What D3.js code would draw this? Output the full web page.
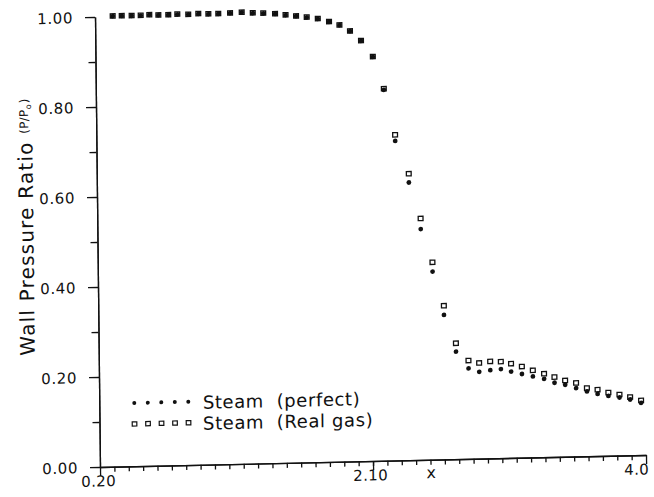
<!DOCTYPE html>
<html><head><meta charset="utf-8">
<script src="https://cdn.jsdelivr.net/npm/d3@7"></script>
<style>html,body{margin:0;padding:0;background:#fff;} svg{display:block;}</style>
</head><body>
<svg id="c" width="654" height="497"></svg>
<script>
// ---- data ----
const xValues = [0.323, 0.386, 0.455, 0.518, 0.578, 0.641, 0.710, 0.773, 0.849, 0.919,
  0.989, 1.058, 1.140, 1.221, 1.298, 1.371, 1.453, 1.526, 1.599, 1.673,
  1.750, 1.828, 1.900, 1.973, 2.049, 2.130, 2.204, 2.279, 2.371, 2.450,
  2.529, 2.605, 2.686, 2.772, 2.846, 2.923, 2.997, 3.068, 3.143, 3.219,
  3.297, 3.369, 3.443, 3.519, 3.594, 3.668, 3.743, 3.820, 3.894, 3.970];
const perfectValues = [1.001, 1.001, 1.001, 1.001, 1.002, 1.001, 1.001, 1.002, 1.001, 1.002,
  1.001, 1.001, 1.002, 1.003, 1.001, 1.000, 0.998, 0.995, 0.992, 0.989,
  0.985, 0.978, 0.970, 0.956, 0.934, 0.898, 0.824, 0.710, 0.617, 0.513,
  0.418, 0.321, 0.239, 0.201, 0.193, 0.196, 0.198, 0.192, 0.186, 0.180,
  0.174, 0.165, 0.160, 0.152, 0.144, 0.138, 0.133, 0.129, 0.124, 0.116];
const realGasValues = [1.001, 1.001, 1.001, 1.001, 1.002, 1.001, 1.001, 1.002, 1.001, 1.002,
  1.001, 1.001, 1.002, 1.003, 1.001, 1.000, 0.998, 0.995, 0.992, 0.989,
  0.985, 0.978, 0.970, 0.956, 0.934, 0.898, 0.826, 0.723, 0.636, 0.536,
  0.438, 0.341, 0.257, 0.218, 0.212, 0.215, 0.214, 0.209, 0.202, 0.193,
  0.185, 0.177, 0.169, 0.163, 0.151, 0.147, 0.140, 0.135, 0.129, 0.121];
const xTickValues = [0.2, 2.1, 4.0];
const xTickLabels = ["0.20", "2.10", "4.0"];
const yTickValues = [0, 0.2, 0.4, 0.6, 0.8, 1.0];
const yTickLabels = ["0.00", "0.20", "0.40", "0.60", "0.80", "1.00"];
const yMinorValues = [0.1, 0.3, 0.5, 0.7, 0.9];
const seriesNames = ["Steam  (perfect)", "Steam  (Real gas)"];
const xTitle = "x";
const yTitleMain = "Wall Pressure Ratio ";

// ---- drawing ----
const F = "DejaVu Sans";
const INK = "#111";
const W = 546, H = 450;
const svg = d3.select("#c");
svg.append("rect").attr("width", 654).attr("height", 497).attr("fill", "#fff");
// slight rotation/shear of the scanned original
const g = svg.append("g").attr("transform", "matrix(1,-0.022,0.0111,1,100,467)");

const x = d3.scaleLinear().domain([0.2, 4.0]).range([0, W]);
const y = d3.scaleLinear().domain([0, 1]).range([0, -H]);

function styleAxis(sel) {
  sel.selectAll("path,line").attr("stroke", INK).attr("stroke-width", 1.3);
  sel.attr("font-family", F).attr("font-size", 15);
}

// x axis minor ticks (every 0.1)
const xMinor = d3.range(3, 40).map(i => i / 10);
const gxm = g.append("g").call(d3.axisBottom(x).tickValues(xMinor).tickSize(5).tickSizeOuter(0).tickFormat(""));
styleAxis(gxm);
const gx = g.append("g").call(d3.axisBottom(x).tickValues(xTickValues).tickSize(9).tickSizeOuter(0)
  .tickFormat((d, i) => xTickLabels[i]));
styleAxis(gx);
gx.selectAll("text").attr("y", 19.5).attr("dy", 0).attr("fill", INK).attr("letter-spacing", 0.4)
  .attr("x", (d, i) => i === xTickValues.length - 1 ? -10 : (i === 0 ? -2 : -3));

// y axis
const gym = g.append("g").call(d3.axisLeft(y).tickValues(yMinorValues).tickSize(7).tickSizeOuter(0).tickFormat(""));
styleAxis(gym);
const gy = g.append("g").call(d3.axisLeft(y).tickValues(yTickValues).tickSize(10).tickSizeOuter(0)
  .tickFormat((d, i) => yTickLabels[i]));
styleAxis(gy);
gy.selectAll("text").attr("x", -22).attr("dy", "0.36em").attr("fill", INK).attr("letter-spacing", 0.6);

// axis titles
g.append("text").attr("x", 331).attr("y", 18.5).attr("text-anchor", "middle")
  .attr("font-family", F).attr("font-size", 16).attr("fill", INK).text(xTitle);

const yt = g.append("text").attr("transform", "translate(-64,-113) rotate(-90)")
  .attr("font-family", F).attr("font-size", 20).attr("letter-spacing", 1.2).attr("fill", INK);
yt.append("tspan").text(yTitleMain);
yt.append("tspan").attr("font-size", 12).attr("letter-spacing", 0.3).attr("dy", -4).text("(P/P");
yt.append("tspan").attr("font-size", 8).attr("dy", 3).text("o");
yt.append("tspan").attr("font-size", 12).attr("dy", -3).text(")");

// data marks
const perfect = xValues.map((v, i) => ({x: v, y: perfectValues[i]}));
const realGas = xValues.map((v, i) => ({x: v, y: realGasValues[i]}));

g.append("g").selectAll("circle").data(perfect).join("circle")
  .attr("cx", d => x(d.x)).attr("cy", d => y(d.y)).attr("r", 2.4).attr("fill", INK);
const SQ = 4.8;
g.append("g").selectAll("rect").data(realGas).join("rect")
  .attr("x", d => x(d.x) - SQ / 2).attr("y", d => y(d.y) - SQ / 2)
  .attr("width", SQ).attr("height", SQ * 0.9)
  .attr("fill", "none").attr("stroke", INK).attr("stroke-width", 1.3);

// legend
const leg = g.append("g");
const legX0 = 35, legStep = 13.5;
const legRows = [-63.3, -42.3];
d3.range(5).forEach(k => {
  leg.append("circle").attr("cx", legX0 + k * legStep).attr("cy", legRows[0]).attr("r", 2.0).attr("fill", INK);
  leg.append("rect").attr("x", legX0 + k * legStep - 2.3).attr("y", legRows[1] - 2.1)
    .attr("width", 4.6).attr("height", 4.2).attr("fill", "none").attr("stroke", INK).attr("stroke-width", 1.2);
});
seriesNames.forEach((s, i) => {
  leg.append("text").attr("x", 103.5).attr("y", legRows[i] + 7.3)
    .attr("font-family", F).attr("font-size", 18).attr("letter-spacing", 0.6)
    .attr("fill", INK).attr("xml:space", "preserve").style("white-space", "pre").text(s);
});
</script>
</body></html>
